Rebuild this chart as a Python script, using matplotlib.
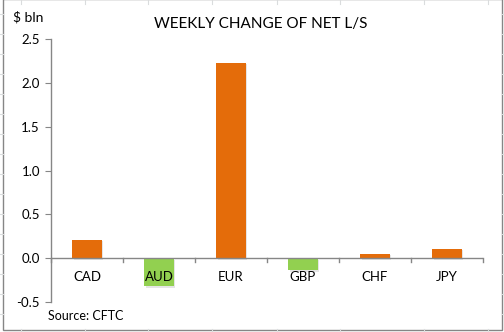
import matplotlib
matplotlib.use("Agg")
import matplotlib.pyplot as plt
import matplotlib.patheffects as pe
from matplotlib.patches import Rectangle
from matplotlib.lines import Line2D

plt.rcParams['font.family'] = ['Lato', 'DejaVu Sans']

currencies = ["CAD", "AUD", "EUR", "GBP", "CHF", "JPY"]
net_change = [0.21, -0.32, 2.23, -0.14, 0.05, 0.11]  # $ bln
yticks = [-0.5, 0.0, 0.5, 1.0, 1.5, 2.0, 2.5]

orange = "#E46C0A"
green = "#92D050"
axis_grey = "#868686"

W, H = 504, 332
fig = plt.figure(figsize=(W / 100, H / 100), dpi=100)
fig.patch.set_facecolor("white")

# faint sheet cell lines around the chart frame
cell_cols = [21, 85, 148, 212, 277, 340, 424, 488]
cell_rows = [14 + 20 * k for k in range(17)]
for x in cell_cols:
    for y0, y1 in [(0, 4), (329, 332)]:
        fig.add_artist(Line2D([x / W, x / W], [1 - y0 / H, 1 - y1 / H],
                              color="#DADCDD", lw=0.8))
for y in cell_rows:
    for x0, x1 in [(0, 3), (502, 504)]:
        fig.add_artist(Line2D([x0 / W, x1 / W], [1 - y / H, 1 - y / H],
                              color="#DADCDD", lw=0.8))

# chart frame
fig.add_artist(Rectangle((3 / W, 1 - 330 / H), 499 / W, 331 / H,
                         transform=fig.transFigure, fill=False,
                         edgecolor=axis_grey, lw=1.0))

ax = fig.add_axes([51 / W, 1 - 302 / H, 432 / W, 263 / H])
ax.set_facecolor("none")

colors = [orange if v >= 0 else green for v in net_change]
x = list(range(len(currencies)))
bars = ax.bar(x, net_change, width=0.41, color=colors, zorder=2)
for b in bars:
    b.set_path_effects([pe.SimplePatchShadow(offset=(1, -1), alpha=0.1,
                                             shadow_rgbFace="black"),
                        pe.Normal()])

ax.set_xlim(-0.5, len(currencies) - 0.5)
ax.set_ylim(-0.5, 2.5)
ax.set_yticks(yticks)
ax.set_yticklabels([f"{v:.1f}" for v in yticks])
ax.tick_params(axis="y", direction="out", length=4, color=axis_grey,
               labelsize=9.5, pad=4, labelcolor="black")

for s in ["top", "right", "bottom"]:
    ax.spines[s].set_visible(False)
ax.spines["left"].set_color(axis_grey)
ax.spines["left"].set_linewidth(1.0)

# category axis drawn at zero
ax.set_xticks([])
ax.axhline(0, color=axis_grey, lw=1.0, zorder=3)
for b in range(len(currencies) + 1):
    ax.plot([b - 0.5, b - 0.5], [0, -0.045], color=axis_grey, lw=1.0,
            zorder=3, clip_on=False)
for i, name in enumerate(currencies):
    ax.text(i, -0.22, name, ha="center", va="center", fontsize=9.5, zorder=4)

fig.text(261 / W, 1 - 24 / H, "WEEKLY CHANGE OF NET L/S", ha="center",
         va="center", fontsize=11)
fig.text(13 / W, 1 - 17 / H, "$ bln", ha="left", va="center", fontsize=10)
fig.text(48 / W, 1 - 316 / H, "Source: CFTC", ha="left", va="center",
         fontsize=9)

plt.savefig("out.png", dpi=100)
